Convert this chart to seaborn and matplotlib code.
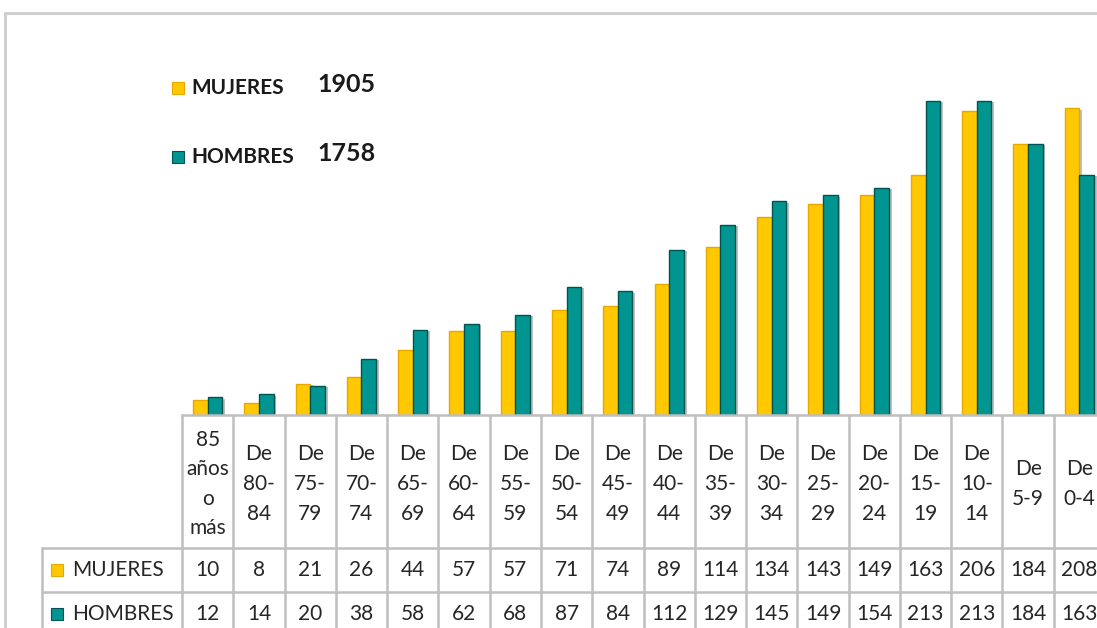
import matplotlib
matplotlib.use("Agg")
import matplotlib.pyplot as plt
import matplotlib.patheffects as pe
from matplotlib.lines import Line2D
from matplotlib.patches import Rectangle
from matplotlib.transforms import blended_transform_factory
import numpy as np
import pandas as pd
import seaborn as sns

# Age groups (oldest to youngest) and population counts per sex
grupos = ["85\naños\no\nmás", "De\n80-\n84", "De\n75-\n79", "De\n70-\n74", "De\n65-\n69",
          "De\n60-\n64", "De\n55-\n59", "De\n50-\n54", "De\n45-\n49", "De\n40-\n44",
          "De\n35-\n39", "De\n30-\n34", "De\n25-\n29", "De\n20-\n24", "De\n15-\n19",
          "De\n10-\n14", "De\n5-9", "De\n0-4"]
mujeres = [10, 8, 21, 26, 44, 57, 57, 71, 74, 89, 114, 134, 143, 149, 163, 206, 184, 208]
hombres = [12, 14, 20, 38, 58, 62, 68, 87, 84, 112, 129, 145, 149, 154, 213, 213, 184, 163]
series = ["MUJERES", "HOMBRES"]
totales = [1905, 1758]

colores = {"MUJERES": "#FFC800", "HOMBRES": "#009590"}
bordes = {"MUJERES": "#E8A800", "HOMBRES": "#005350"}

df = pd.DataFrame({
    "grupo": grupos * 2,
    "sexo": [series[0]] * len(grupos) + [series[1]] * len(grupos),
    "valor": mujeres + hombres,
})

sns.set_theme(style="white")
plt.rcParams["font.family"] = ["Lato", "DejaVu Sans"]

W, H = 1097, 628
fig = plt.figure(figsize=(W / 100, H / 100), dpi=100)
fig.patch.set_facecolor("white")

# plot area: baseline and column grid in pixel terms
x_left, x_right = 182, 1105
y_base, y_top = 415, 20
ax = fig.add_axes([x_left / W, (H - y_base) / H, (x_right - x_left) / W, (y_base - y_top) / H])

sns.barplot(data=df, x="grupo", y="valor", hue="sexo", hue_order=series,
            palette=colores, width=0.57, saturation=1, ax=ax, legend=False)

for cont, s in zip(ax.containers, series):
    for bar in cont:
        bar.set_edgecolor(bordes[s])
        bar.set_linewidth(1.0)
        bar.set_path_effects([pe.SimplePatchShadow(offset=(2, -1), alpha=0.25, shadow_rgbFace="#000000"),
                              pe.Normal()])

ax.set_xlim(-0.5, len(grupos) - 0.5)
ax.set_ylim(0, (y_base - y_top) / 1.474)
ax.set_xticks([])
ax.set_yticks([])
ax.set_xlabel("")
ax.set_ylabel("")
for sp in ax.spines.values():
    sp.set_visible(False)

def fy(p):
    return (H - p) / H

def fx(p):
    return p / W

grid_col = "#BFBFBF"
tr = blended_transform_factory(ax.transData, fig.transFigure)

# outer chart frame
fig.add_artist(Line2D([fx(5), 1.0], [fy(13), fy(13)], color="#D0D0D0", lw=2.2))
fig.add_artist(Line2D([fx(5), fx(5)], [fy(13), 0], color="#D0D0D0", lw=2.2))

# data table grid
row_lines = [548, 592, 636]
for i in range(len(grupos) + 1):
    fig.add_artist(Line2D([i - 0.5, i - 0.5], [fy(y_base), fy(640)], color=grid_col, lw=1.8, transform=tr))
fig.add_artist(Line2D([-0.5, len(grupos) - 0.5], [fy(y_base), fy(y_base)], color=grid_col, lw=1.8, transform=tr))
for p in row_lines:
    fig.add_artist(Line2D([fx(42), 1.0], [fy(p), fy(p)], color=grid_col, lw=1.8))
fig.add_artist(Line2D([fx(42), fx(42)], [fy(548), 0], color=grid_col, lw=1.8))

# header row with age groups
for i, g in enumerate(grupos):
    fig.text(0, fy(484), g, transform=tr, ha="center", va="center", fontsize=15,
             color="#262626", linespacing=1.6).set_x(i)

# value rows
for r, (nombre, vals) in enumerate(zip(series, [mujeres, hombres])):
    yc = (row_lines[r] + row_lines[r + 1]) / 2
    fig.add_artist(Rectangle((fx(51), fy(yc + 6)), 12 / W, 12 / H, facecolor=colores[nombre],
                             edgecolor=bordes[nombre], lw=0.8))
    fig.text(fx(72), fy(yc), nombre, ha="left", va="center", fontsize=15, color="#262626")
    for i, v in enumerate(vals):
        t = fig.text(0, fy(yc), str(v), transform=tr, ha="center", va="center",
                     fontsize=15, color="#262626")
        t.set_x(i)

# legend with totals
for nombre, total, yc in zip(series, totales, [88, 157]):
    fig.add_artist(Rectangle((fx(172), fy(yc + 6)), 12 / W, 12 / H, facecolor=colores[nombre],
                             edgecolor=bordes[nombre], lw=0.8))
    fig.text(fx(191), fy(yc), nombre, ha="left", va="center", fontsize=15,
             fontweight="bold", color="#1a1a1a")
    fig.text(fx(317), fy(yc - 3), str(total), ha="left", va="center", fontsize=18,
             fontweight="bold", color="#1a1a1a")

fig.savefig("out.png", dpi=100, facecolor="white")
